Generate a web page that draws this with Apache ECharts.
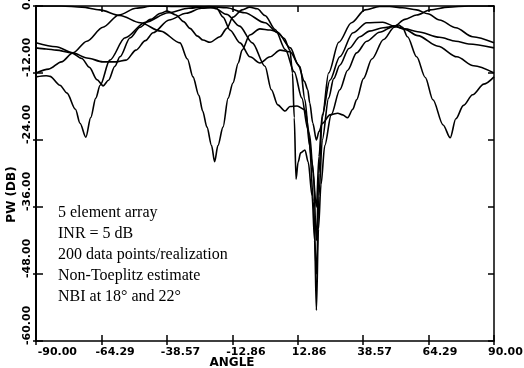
<!DOCTYPE html>
<html>
<head>
<meta charset="utf-8">
<script src="https://cdn.jsdelivr.net/npm/echarts@6/dist/echarts.min.js"></script>
<style>
  html, body {margin: 0; padding: 0; background: #fff;}
  #chart {width: 524px; height: 368px;}
</style>
</head>
<body>
<div id="chart"></div>
<script>
// tick positions / labels
const angleTicks = [-90, -64.29, -38.57, -12.86, 12.86, 38.57, 64.29, 90];
const pwTicks = [-60, -48, -36, -24, -12, 0];

// five realizations, [angle, PW dB]
const curveA = [[-90,0],[-80,0],[-72,-0.2],[-65,-0.7],[-57,-1.7],[-49,-3.0],[-41,-4.5],[-33.4,-6.6],[-30.5,-9.5],[-28.3,-12.7],[-26,-16],[-24.5,-18.8],[-22.8,-21.7],[-21,-25],[-19.8,-27.9],[-18.5,-25],[-16.5,-21.7],[-14.5,-16.5],[-12.6,-13.8],[-10.5,-10.2],[-9,-7.9],[-6,-5.2],[-2,-4.1],[2,-4.3],[4.7,-4.6],[7.5,-5.8],[9.8,-7.9],[10.8,-12],[11.5,-20],[12.2,-31],[13,-28],[14,-26.3],[15.7,-25.8],[17,-28],[18.5,-34],[19.5,-42],[20.2,-54.5],[21,-40],[22,-32],[23.5,-25],[26,-19.5],[29.4,-15],[32.5,-11.5],[36,-8.4],[40,-6.3],[45,-4.7],[50.8,-3.6],[55,-2.4],[59.6,-1.6],[65,-0.7],[72,-0.2],[80,0],[90,0]];
const curveB = [[-90,-6.6],[-82.1,-7.3],[-75.5,-8.4],[-70,-9.3],[-63.7,-10],[-58.6,-10],[-54.6,-9.7],[-50.7,-7.9],[-47,-6.2],[-44,-4.8],[-37.7,-2.5],[-31,-1.3],[-25,-0.4],[-20,-0.3],[-15,-1.5],[-10,-3.6],[-5,-6.6],[0,-10.8],[2.5,-15],[5,-17.7],[7.9,-18.8],[9.8,-18],[12.6,-17.9],[15.7,-18.6],[17.5,-23],[19,-30],[20.2,-42],[21.2,-30],[22.5,-20],[25,-12],[29,-6.5],[34,-3],[39.3,-0.7],[45,-0.1],[49,-0.1],[54,-0.3],[59.6,-0.7],[64,-1.4],[68.6,-2.5],[75,-3.9],[81.6,-5.5],[90,-6.6]];
const curveC = [[-90,-7.5],[-86,-7.7],[-82,-7.9],[-76,-8.4],[-72,-9.4],[-69,-11],[-66,-13.2],[-63.6,-14.3],[-61.5,-13.3],[-59,-10.8],[-57,-9.1],[-53,-5.7],[-49.1,-3.8],[-45,-2.4],[-41,-1.3],[-38.5,-0.9],[-35,-1.6],[-32,-2.8],[-29.5,-4],[-26.5,-5.4],[-24.4,-6.1],[-21.6,-6.5],[-17.7,-5.5],[-15,-4],[-12.6,-2],[-9,-0.7],[-6,-0.2],[-3,-0.5],[0,-1.7],[4,-4.2],[8,-7.8],[11.5,-11.8],[14.5,-16.5],[16.8,-22],[18.5,-28],[20.2,-36],[21.2,-27],[22.5,-19.5],[25.5,-13.3],[29.4,-9.1],[34.6,-4.8],[40,-3],[46.3,-2.9],[50.8,-3.6],[55,-4.1],[60,-4.6],[68.6,-5.6],[75,-6.3],[80,-6.8],[90,-7.5]];
const curveD = [[-90,-12],[-85,-11.3],[-80,-10],[-75.5,-8.4],[-70,-6.3],[-63.7,-3.8],[-57.4,-1.6],[-50.7,-0.4],[-44,0],[-35,-0.1],[-27,-0.1],[-21.5,-0.2],[-18.9,-0.5],[-16.5,-2],[-13.8,-4.3],[-9.8,-6.6],[-5.9,-9.1],[-2,-10.2],[2,-9.1],[5.9,-7.9],[9.8,-8.2],[13.8,-10.9],[15.7,-16.8],[17.5,-25],[19,-35],[20.2,-48],[21.2,-34],[22.5,-24],[25,-16.5],[27,-13],[29.4,-10.6],[33,-7.6],[37.3,-5.5],[41,-4.5],[46.4,-3.9],[50.8,-3.6],[55,-4.2],[60,-5.3],[68,-7.2],[75.4,-9.1],[82,-10.7],[90,-12]];
const curveE = [[-90,-12.7],[-86,-12.5],[-84.5,-12.6],[-80.6,-14.2],[-77.8,-15.6],[-74.5,-18.5],[-72.7,-21],[-70.4,-23.5],[-68.5,-20],[-66.5,-16.5],[-64.8,-14.2],[-61,-9.7],[-55,-5.7],[-47,-2.9],[-38,-1.2],[-30,-0.4],[-22,-0.1],[-15,-0.3],[-8,-1.2],[0,-3],[5,-4.8],[10,-7.5],[13,-10.5],[15.5,-13.5],[16.8,-15],[17.6,-17.4],[18.8,-21],[20.2,-24],[21.2,-22.5],[22.6,-21],[25.5,-19.5],[28.6,-19.2],[30.5,-19.5],[32.5,-20],[34.5,-18.5],[36,-16.8],[38.7,-13],[42,-9.5],[46.6,-6],[50.8,-3.8],[52.5,-3.4],[54,-3.8],[56,-5.5],[59.6,-9.1],[63,-12.8],[66,-16.8],[70,-21.3],[72.8,-23.6],[75,-20.2],[78,-17.8],[81.6,-15.9],[86,-14],[90,-12.7]];

const noteLines = [
  '5 element array',
  'INR = 5 dB',
  '200 data points/realization',
  'Non-Toeplitz estimate',
  'NBI at 18\u00b0 and 22\u00b0'
];

const axisFont = {fontFamily: 'DejaVu Sans', fontWeight: 'bold', fontSize: 11, color: '#000'};
const black = {color: '#000', width: 1.5};
const noZero = {onZero: false, lineStyle: black};

const chart = echarts.init(document.getElementById('chart'));
chart.setOption({
  animation: false,
  backgroundColor: '#fff',
  grid: {left: 36, right: 30, top: 6, bottom: 27, containLabel: false, outerBoundsMode: 'none'},
  xAxis: [
    {
      type: 'value', position: 'bottom', min: -90, max: 90,
      axisLine: noZero,
      axisTick: {inside: true, length: 6, customValues: angleTicks, lineStyle: black},
      axisLabel: {customValues: angleTicks, align: 'left', margin: 6, padding: [0, 0, 0, -6],
        // first label sits a little inside the frame
        formatter: (v, i) => (v === -90 ? '  ' : '') + v.toFixed(2), ...axisFont},
      splitLine: {show: false},
      name: 'ANGLE', nameLocation: 'middle', nameGap: 16, nameMoveOverlap: false,
      nameTextStyle: {...axisFont, fontSize: 12, padding: [0, 66, 0, 0]}
    },
    {
      type: 'value', position: 'bottom', min: -90, max: 90,
      axisLine: {show: false, onZero: false},
      axisTick: {inside: false, length: 4, customValues: angleTicks, lineStyle: black},
      axisLabel: {show: false}, splitLine: {show: false}
    },
    {
      type: 'value', position: 'top', min: -90, max: 90,
      axisLine: noZero,
      axisTick: {inside: true, length: 6, customValues: angleTicks, lineStyle: black},
      axisLabel: {show: false}, splitLine: {show: false}
    }
  ],
  yAxis: [
    {
      type: 'value', position: 'left', min: -60, max: 0, interval: 12,
      axisLine: {onZero: false, lineStyle: {color: '#000', width: 2}},
      axisTick: {inside: true, length: 7, lineStyle: black},
      axisLabel: {rotate: 90, align: 'left', verticalAlign: 'bottom', margin: 3,
        padding: [0, 0, 0, -4], formatter: v => v.toFixed(2), ...axisFont},
      splitLine: {show: false},
      name: 'PW (DB)', nameLocation: 'middle', nameRotate: 90, nameGap: 18, nameMoveOverlap: false,
      nameTextStyle: {...axisFont, fontSize: 12, padding: [0, 42, 0, 0]}
    },
    {
      type: 'value', position: 'left', min: -60, max: 0, interval: 12,
      axisLine: {show: false, onZero: false},
      axisTick: {inside: false, length: 3, lineStyle: black},
      axisLabel: {show: false}, splitLine: {show: false}
    },
    {
      type: 'value', position: 'right', min: -60, max: 0, interval: 12,
      axisLine: noZero,
      axisTick: {inside: true, length: 6, lineStyle: black},
      axisLabel: {show: false}, splitLine: {show: false}
    }
  ],
  graphic: [{
    type: 'text', left: 58, top: 202,
    style: {
      text: noteLines.join('\n'),
      font: '16px "Liberation Serif"',
      lineHeight: 21,
      fill: '#000'
    }
  }],
  series: [curveA, curveB, curveC, curveD, curveE].map(d => ({
    type: 'line',
    data: d,
    showSymbol: false,
    symbol: 'none',
    smooth: 0.3,
    smoothMonotone: 'x',
    lineStyle: {color: '#000', width: 1.6}
  }))
});
</script>
</body>
</html>
